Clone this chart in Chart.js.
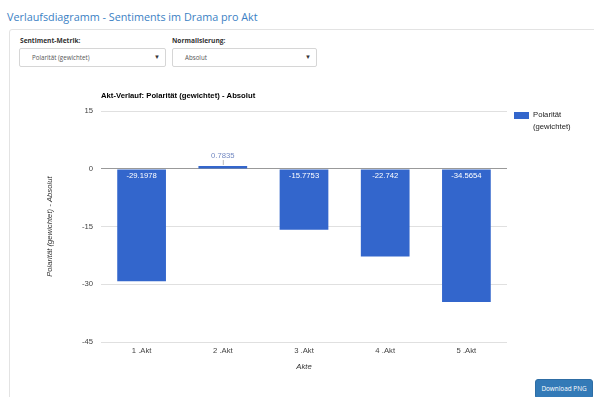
<!DOCTYPE html>
<html>
<head>
<meta charset="utf-8">
<script src="https://cdn.jsdelivr.net/npm/chart.js@4"></script>
<style>
  html, body { margin: 0; padding: 0; background: #fff; }
  body { width: 594px; height: 397px; position: relative; overflow: hidden; font-family: "Open Sans", sans-serif; }
  .ptitle { position: absolute; left: 7px; top: 9px; font-size: 10.8px; color: #3b7fc4; white-space: nowrap; }
  .panel { position: absolute; left: 9px; top: 29px; width: 600px; height: 400px; border: 1px solid #e3e3e3; border-radius: 3px; box-sizing: border-box; }
  .lbl { position: absolute; top: 36px; font-size: 6.6px; font-weight: bold; color: #333; white-space: nowrap; }
  .sel { position: absolute; top: 48px; height: 19px; border: 1px solid #d6d6d6; border-radius: 2px; box-sizing: border-box; font-size: 6.2px; color: #555; line-height: 17px; padding-left: 12px; white-space: nowrap; }
  .sel .arr { position: absolute; right: 5px; top: 0; font-size: 6px; color: #333; }
  #wrap { position: absolute; left: 0; top: 80px; width: 594px; height: 300px; }
  .btn { position: absolute; left: 535px; top: 379px; width: 58px; height: 20px; background: #337ab7; border: 1px solid #2e6da4; border-radius: 3px; box-sizing: border-box; color: #fff; font-size: 6.4px; line-height: 17px; text-align: center; white-space: nowrap; }
</style>
</head>
<body>
<div class="ptitle">Verlaufsdiagramm - Sentiments im Drama pro Akt</div>
<div class="panel"></div>
<div class="lbl" style="left:20px">Sentiment-Metrik:</div>
<div class="lbl" style="left:172px">Normalisierung:</div>
<div class="sel" style="left:19px;width:147px">Polarität (gewichtet)<span class="arr">▼</span></div>
<div class="sel" style="left:172px;width:145px">Absolut<span class="arr">▼</span></div>
<div id="wrap"><canvas id="c" width="594" height="300"></canvas></div>
<div class="btn">Download PNG</div>
<script>
const categories = ["1 .Akt", "2 .Akt", "3 .Akt", "4 .Akt", "5 .Akt"];
const values = [-29.1978, 0.7835, -15.7753, -22.742, -34.5654];
const valueLabels = ["-29.1978", "0.7835", "-15.7753", "-22.742", "-34.5654"];
const seriesName = "Polarität (gewichtet)";
const chartTitle = "Akt-Verlauf: Polarität (gewichtet) - Absolut";
const yTitle = "Polarität (gewichtet) - Absolut";
const xTitle = "Akte";
const yTicks = [15, 0, -15, -30, -45];

const FONT = '"Liberation Sans", Arial, sans-serif';
const FS = 7.7;
const BAR = '#3366cc';

const extras = {
  id: 'extras',
  afterDatasetsDraw(chart) {
    const ctx = chart.ctx;
    const ca = chart.chartArea;
    const meta = chart.getDatasetMeta(0);
    ctx.save();
    ctx.font = FS + 'px ' + FONT;
    ctx.textAlign = 'center';
    ctx.textBaseline = 'middle';
    meta.data.forEach((bar, i) => {
      const v = values[i];
      if (v < 0) {
        ctx.fillStyle = '#ffffff';
        ctx.fillText(valueLabels[i], bar.x, bar.base + 6);
      } else {
        ctx.strokeStyle = '#bbbbbb';
        ctx.lineWidth = 1;
        ctx.beginPath();
        ctx.moveTo(bar.x + 0.5, bar.y - 1);
        ctx.lineTo(bar.x + 0.5, bar.y - 6);
        ctx.stroke();
        ctx.fillStyle = '#7389c2';
        ctx.fillText(valueLabels[i], bar.x, bar.y - 10.5);
      }
    });
    // chart title
    ctx.textAlign = 'left';
    ctx.fillStyle = '#000';
    ctx.font = 'bold ' + FS + 'px ' + FONT;
    ctx.fillText(chartTitle, ca.left, 16);
    // x title
    ctx.font = 'italic ' + FS + 'px ' + FONT;
    ctx.fillStyle = '#333';
    ctx.textAlign = 'center';
    ctx.fillText(xTitle, (ca.left + ca.right) / 2, 287);
    // y title
    ctx.save();
    ctx.translate(50, (ca.top + ca.bottom) / 2);
    ctx.rotate(-Math.PI / 2);
    ctx.fillText(yTitle, 0, 0);
    ctx.restore();
    // legend
    ctx.fillStyle = BAR;
    ctx.fillRect(514, 32, 15, 7);
    ctx.fillStyle = '#222';
    ctx.textAlign = 'left';
    ctx.font = FS + 'px ' + FONT;
    ctx.fillText('Polarität', 533, 35);
    ctx.fillText('(gewichtet)', 533, 47);
    ctx.restore();
  }
};

new Chart(document.getElementById('c'), {
  type: 'bar',
  data: {
    labels: categories,
    datasets: [{ label: seriesName, data: values, backgroundColor: BAR, borderWidth: 0,
      categoryPercentage: 1.0, barPercentage: 0.6 }]
  },
  options: {
    responsive: false,
    animation: false,
    layout: { padding: { top: 31.3, right: 87, bottom: 0, left: 0 } },
    plugins: { legend: { display: false }, title: { display: false }, tooltip: { enabled: false } },
    scales: {
      x: {
        grid: { display: false, drawTicks: false, tickLength: 0 },
        border: { display: false },
        ticks: { color: '#444', font: { family: FONT, size: FS }, padding: 4, maxRotation: 0 },
        afterFit(s) { s.height = 38; }
      },
      y: {
        min: -45, max: 15,
        afterBuildTicks(s) { s.ticks = yTicks.map(v => ({ value: v })); },
        grid: { drawTicks: false, color: (c) => c.tick && c.tick.value === 0 ? '#999999' : '#e0e0e0', lineWidth: 1 },
        border: { display: false },
        ticks: { color: '#444', font: { family: FONT, size: FS }, padding: 8 },
        afterFit(s) { s.width = 101; }
      }
    }
  },
  plugins: [extras]
});
</script>
</body>
</html>
